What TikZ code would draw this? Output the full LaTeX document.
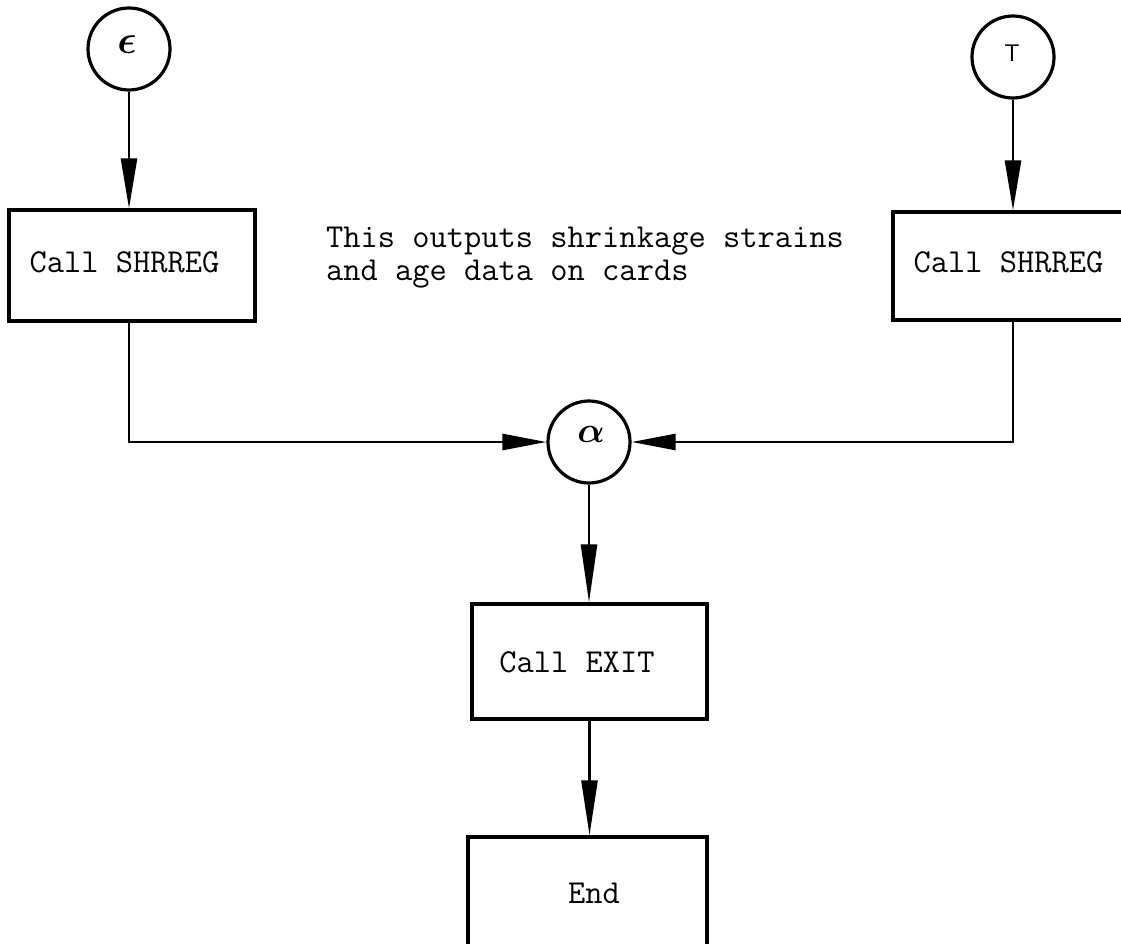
\RequirePackage{fix-cm}
\documentclass[tikz,border=0pt]{standalone}
\usepackage{bm}
\usetikzlibrary{arrows.meta}
\begin{document}
\begin{tikzpicture}[x=1pt,y=-1pt,
  conn/.style={line width=2.6pt},
  varr/.style={conn,-{Triangle[length=#1,width=16pt]}},
  varr/.default=50pt,
  harr/.style={conn,-{Triangle[length=44pt,width=16pt]}},
  boxnode/.style={draw,line width=3.2pt,rectangle,inner sep=0pt},
  circ/.style={draw,line width=3.2pt,circle,minimum size=82pt,inner sep=0pt},
  tw/.style={font=\fontsize{33.5}{40}\selectfont\ttfamily,inner sep=0pt},
  sym/.style={inner sep=0pt}
]
\useasboundingbox (0,0) rectangle (1121,944);
\clip (0,0) rectangle (1121,944);

% circles
\node[circ] (eps) at (129,49) {};
\node[sym,font=\fontsize{40}{40}\selectfont] (epsT) at (127,45) {$\bm{\epsilon}$};
\node[circ] (tau) at (1013,57) {};
\node[sym,font=\fontsize{24}{24}\selectfont\sffamily] (tauT) at (1012,53) {T};
\node[circ] (alpha) at (589,442) {};
\node[sym,font=\fontsize{36}{36}\selectfont] (alphaT) at (591,434) {$\bm{\alpha}$};

% boxes
\node[boxnode,minimum width=246pt,minimum height=111pt] (boxL) at (132,265.5) {};
\node[tw] (txtL) at (124.5,262) {Call SHRREG};
\node[boxnode,minimum width=242pt,minimum height=108pt] (boxR) at (1014,266) {};
\node[tw] (txtR) at (1008.5,262) {Call SHRREG};
\node[boxnode,minimum width=235pt,minimum height=115pt] (exit) at (589.5,661.5) {};
\node[tw] (txtE) at (577,662) {Call EXIT};
\node[boxnode,minimum width=239pt,minimum height=133pt] (end) at (587.5,903.5) {};
\node[tw] (txtEnd) at (594,893) {End};

% comment text
\node[tw,anchor=base west] (note1) at (326,247) {This outputs shrinkage strains};
\node[tw,anchor=base west] (note2) at (326,280) {and age data on cards};

% connectors
\draw[varr] (eps.south) -- (eps.south |- boxL.north);
\draw[varr] (tau.south) -- (tau.south |- boxR.north);
\draw[harr] (eps.south |- boxL.south) |- (alpha.west);
\draw[harr] (tau.south |- boxR.south) |- (alpha.east);
\draw[varr=58pt] (alpha.south) -- (alpha.south |- exit.north);
\draw[varr=55pt] (exit.south) -- (exit.south |- end.north);
\end{tikzpicture}
\end{document}
